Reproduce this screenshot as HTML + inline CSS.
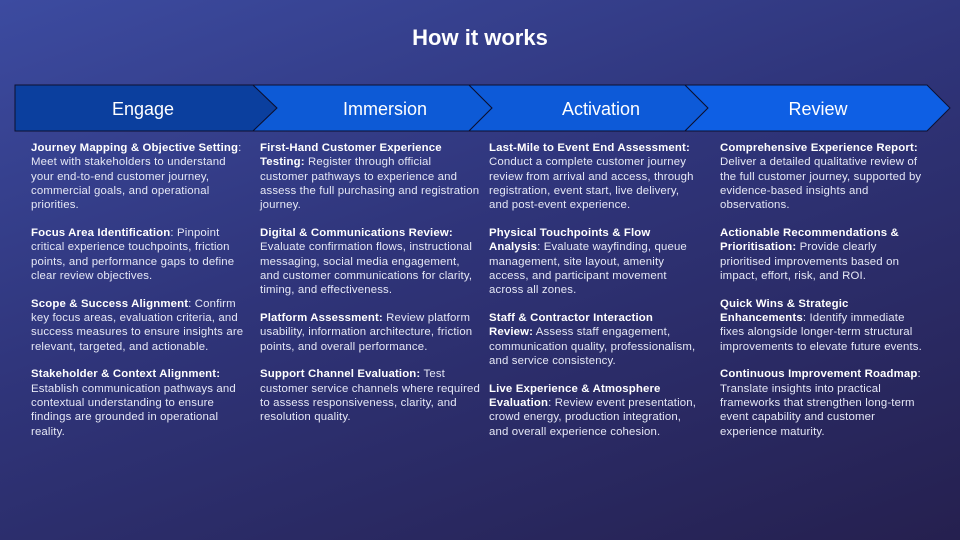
<!DOCTYPE html>
<html><head><meta charset="utf-8"><style>
*{margin:0;padding:0;box-sizing:border-box}
body{width:960px;height:540px;overflow:hidden;position:relative;font-family:"Liberation Sans",sans-serif;color:#fff;
background:linear-gradient(160deg,#3c4ba0 0%,#2f3479 45%,#25204f 100%);}
h1{position:absolute;top:25px;left:0;width:960px;text-align:center;font-size:22px;font-weight:bold;}
svg{position:absolute;left:0;top:0}
.col{position:absolute;top:141px;font-size:11.4px;line-height:14.3px;color:#e6e8f6;white-space:nowrap;letter-spacing:0.15px}
.col p{margin-bottom:13.5px}
.col b{color:#fff}
</style></head><body>
<h1>How it works</h1>
<svg width="960" height="540">
<g stroke="#0d1030" stroke-width="1">
<polygon points="15,85 253,85 277,108 253,131 15,131" fill="#0b3f9e"/>
<polygon points="253,85 469,85 492,108 469,131 253,131 277,108" fill="#0d5ad6"/>
<polygon points="469,85 685,85 708,108 685,131 469,131 492,108" fill="#0d5ad8"/>
<polygon points="685,85 927,85 950,108 927,131 685,131 708,108" fill="#0e5fe4"/>
</g>
<g fill="#fff" font-family="Liberation Sans, sans-serif" font-size="18" text-anchor="middle">
<text x="143" y="115">Engage</text>
<text x="385" y="115">Immersion</text>
<text x="601" y="115">Activation</text>
<text x="818" y="115">Review</text>
</g>
</svg>
<div class="col" style="left:31px">
<p><b>Journey Mapping &amp; Objective Setting</b>:<br>Meet with stakeholders to understand<br>your end-to-end customer journey,<br>commercial goals, and operational<br>priorities.</p>
<p><b>Focus Area Identification</b>: Pinpoint<br>critical experience touchpoints, friction<br>points, and performance gaps to define<br>clear review objectives.</p>
<p><b>Scope &amp; Success Alignment</b>: Confirm<br>key focus areas, evaluation criteria, and<br>success measures to ensure insights are<br>relevant, targeted, and actionable.</p>
<p><b>Stakeholder &amp; Context Alignment:</b><br>Establish communication pathways and<br>contextual understanding to ensure<br>findings are grounded in operational<br>reality.</p>
</div>
<div class="col" style="left:260px">
<p><b>First-Hand Customer Experience<br>Testing:</b> Register through official<br>customer pathways to experience and<br>assess the full purchasing and registration<br>journey.</p>
<p><b>Digital &amp; Communications Review:</b><br>Evaluate confirmation flows, instructional<br>messaging, social media engagement,<br>and customer communications for clarity,<br>timing, and effectiveness.</p>
<p><b>Platform Assessment:</b> Review platform<br>usability, information architecture, friction<br>points, and overall performance.</p>
<p><b>Support Channel Evaluation:</b> Test<br>customer service channels where required<br>to assess responsiveness, clarity, and<br>resolution quality.</p>
</div>
<div class="col" style="left:489px">
<p><b>Last-Mile to Event End Assessment:</b><br>Conduct a complete customer journey<br>review from arrival and access, through<br>registration, event start, live delivery,<br>and post-event experience.</p>
<p><b>Physical Touchpoints &amp; Flow<br>Analysis</b>: Evaluate wayfinding, queue<br>management, site layout, amenity<br>access, and participant movement<br>across all zones.</p>
<p><b>Staff &amp; Contractor Interaction<br>Review:</b> Assess staff engagement,<br>communication quality, professionalism,<br>and service consistency.</p>
<p><b>Live Experience &amp; Atmosphere<br>Evaluation</b>: Review event presentation,<br>crowd energy, production integration,<br>and overall experience cohesion.</p>
</div>
<div class="col" style="left:720px">
<p><b>Comprehensive Experience Report:</b><br>Deliver a detailed qualitative review of<br>the full customer journey, supported by<br>evidence-based insights and<br>observations.</p>
<p><b>Actionable Recommendations &amp;<br>Prioritisation:</b> Provide clearly<br>prioritised improvements based on<br>impact, effort, risk, and ROI.</p>
<p><b>Quick Wins &amp; Strategic<br>Enhancements</b>: Identify immediate<br>fixes alongside longer-term structural<br>improvements to elevate future events.</p>
<p><b>Continuous Improvement Roadmap</b>:<br>Translate insights into practical<br>frameworks that strengthen long-term<br>event capability and customer<br>experience maturity.</p>
</div>
</body></html>
